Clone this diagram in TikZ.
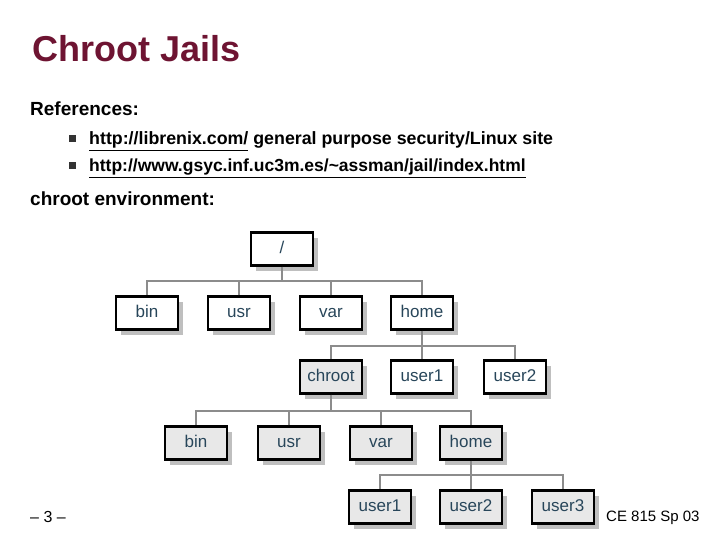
\documentclass[tikz,border=0pt]{standalone}
\usepackage{fontspec}
\setmainfont{Liberation Sans}
\usepackage{tikz}
\usetikzlibrary{shadows}
\definecolor{titlered}{RGB}{110,20,50}
\definecolor{boxtext}{RGB}{40,70,90}
\definecolor{chrootgray}{RGB}{232,232,232}
\tikzset{
  dir/.style={rectangle, draw=black, line width=2.4pt, minimum width=62pt, minimum height=33pt,
    fill=white, text=boxtext, font=\fontsize{17}{17}\selectfont, text height=12pt, text depth=3pt,
    drop shadow={shadow xshift=5pt, shadow yshift=-5pt, fill=black!25, opacity=1}},
  jail/.style={dir, fill=chrootgray},
  link/.style={draw=black!45, line width=1.6pt}
}
\begin{document}
\begin{tikzpicture}[x=1pt,y=-1pt]
\useasboundingbox (0,0) rectangle (720,540);
\node[anchor=base west, inner sep=0pt, text=titlered, font=\fontsize{36}{36}\selectfont\bfseries] (title) at (32,62) {Chroot Jails};
\node[anchor=base west, inner sep=0pt, font=\fontsize{19}{19}\selectfont\bfseries] (refs) at (30,116) {References:};
\node[fill=black!80, minimum size=7pt, inner sep=0pt] (b1) at (72,139) {};
\node[anchor=base west, inner sep=0pt, font=\fontsize{17.8}{18}\selectfont\bfseries] (r1) at (89,145) {\underline{http://librenix.com/} general purpose security/Linux site};
\node[fill=black!80, minimum size=7pt, inner sep=0pt] (b2) at (72,166) {};
\node[anchor=base west, inner sep=0pt, font=\fontsize{17.5}{18}\selectfont\bfseries] (r2) at (89,172) {\underline{http://www.gsyc.inf.uc3m.es/\textasciitilde assman/jail/index.html}};
\node[anchor=base west, inner sep=0pt, font=\fontsize{19}{19}\selectfont\bfseries] (env) at (30,206) {chroot environment:};
\node[anchor=base west, inner sep=0pt, font=\fontsize{16}{16}\selectfont] (page) at (30,522) {– 3 –};
\node[anchor=base west, inner sep=0pt, font=\fontsize{15}{15}\selectfont] (course) at (606,521) {CE 815 Sp 03};
% tree
\node[dir] (root) at (282,249) {/};
\node[dir] (bin) at (147,313) {bin};
\node[dir] (usr) at (239,313) {usr};
\node[dir] (var) at (331,313) {var};
\node[dir] (home) at (422,313) {home};
\node[jail] (chroot) at (331,377) {chroot};
\node[dir] (user1) at (422,377) {user1};
\node[dir] (user2) at (515,377) {user2};
\node[jail] (cbin) at (196,443) {bin};
\node[jail] (cusr) at (289,443) {usr};
\node[jail] (cvar) at (381,443) {var};
\node[jail] (chome) at (471,443) {home};
\node[jail] (cuser1) at (380,507) {user1};
\node[jail] (cuser2) at (471,507) {user2};
\node[jail] (cuser3) at (563,507) {user3};
\draw[link] (root.south) |- (147,281) -- (bin.north)
  (root.south) |- (422,281) -- (home.north)
  (usr.north) -- (239,281) (var.north) -- (331,281);
\draw[link] (home.south) |- (331,346) -- (chroot.north)
  (home.south) |- (515,346) -- (user2.north) (home.south) -- (user1.north);
\draw[link] (chroot.south) |- (196,411) -- (cbin.north)
  (chroot.south) |- (471,411) -- (chome.north)
  (cusr.north) -- (289,411) (cvar.north) -- (381,411);
\draw[link] (chome.south) |- (380,475) -- (cuser1.north)
  (chome.south) |- (563,475) -- (cuser3.north) (chome.south) -- (cuser2.north);
\end{tikzpicture}
\end{document}
